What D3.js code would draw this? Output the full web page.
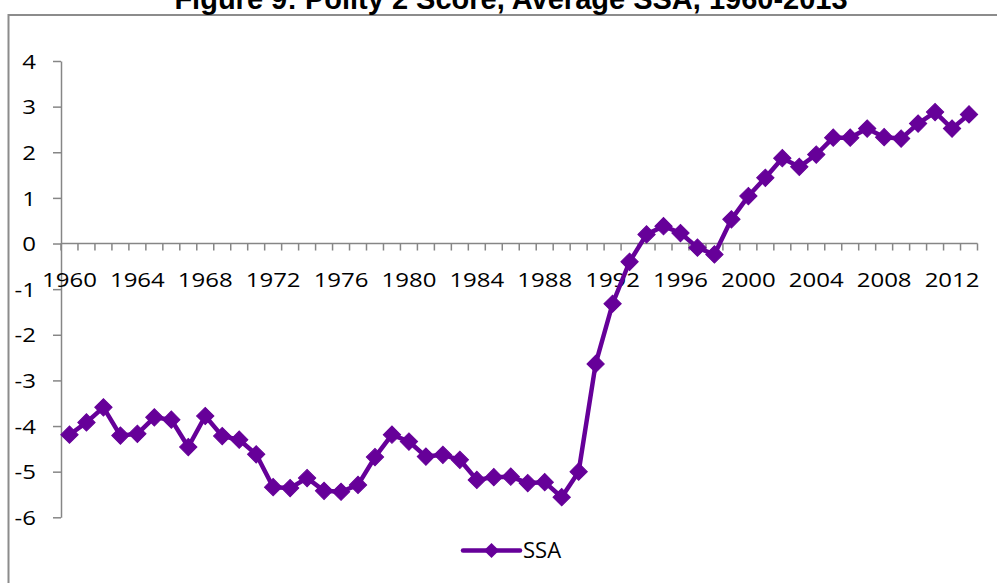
<!DOCTYPE html>
<html>
<head>
<meta charset="utf-8">
<script src="https://cdn.jsdelivr.net/npm/d3@7"></script>
<style>
  html, body { margin: 0; padding: 0; background: #fff; }
  svg { display: block; }
</style>
</head>
<body>
<script>
const years = d3.range(1960, 2014);
const ssa = [
  -4.19, -3.92, -3.59, -4.21, -4.17, -3.81, -3.86, -4.46, -3.78, -4.22,
  -4.30, -4.62, -5.34, -5.36, -5.14, -5.42, -5.44, -5.29, -4.68, -4.19,
  -4.34, -4.67, -4.63, -4.74, -5.18, -5.12, -5.11, -5.25, -5.23, -5.56,
  -5.00, -2.64, -1.32, -0.40, 0.20, 0.38, 0.23, -0.09, -0.24, 0.53,
  1.04, 1.44, 1.87, 1.68, 1.95, 2.32, 2.32, 2.52, 2.33, 2.30,
  2.63, 2.88, 2.52, 2.83
];
const yTicks = [-6, -5, -4, -3, -2, -1, 0, 1, 2, 3, 4];
const xTickLabels = d3.range(1960, 2014, 4);
const seriesName = "SSA";
const title = "Figure 9: Polity 2 Score, Average SSA, 1960-2013";

const W = 997, H = 583;
const plotL = 61, plotR = 977.5, plotT = 61, plotB = 517.3;
const color = "#660099";
const axisColor = "#868686";

const svg = d3.select("body").append("svg").attr("width", W).attr("height", H);

// outer chart frame
svg.append("rect").attr("x", 8.5).attr("y", 15).attr("width", W + 10).attr("height", H + 10)
  .attr("fill", "none").attr("stroke", "#8c8c8c").attr("stroke-width", 2);

// title (partly above the top edge, as in the reference)
svg.append("text").attr("x", 511).attr("y", 9).attr("text-anchor", "middle")
  .attr("font-family", "Liberation Sans, Arial, sans-serif").attr("font-weight", "bold")
  .attr("font-size", 29).attr("fill", "#000").text(title);

const x = d3.scaleBand().domain(years).range([plotL, plotR]).padding(0);
const y = d3.scaleLinear().domain([-6, 4]).range([plotB, plotT]);

// y axis
const yAxis = svg.append("g").attr("transform", `translate(${plotL},0)`)
  .call(d3.axisLeft(y).tickValues(yTicks).tickSize(8).tickSizeOuter(0).tickFormat(d3.format("d")));
yAxis.select(".domain").attr("stroke", axisColor).attr("stroke-width", 1.5);
yAxis.selectAll(".tick line").attr("stroke", axisColor).attr("stroke-width", 1.5);
yAxis.selectAll(".tick text").remove();
yAxis.selectAll(".tick").append("text")
  .attr("text-anchor", "end").attr("dy", "0.35em")
  .attr("transform", "translate(-25,0) scale(1.17,1)")
  .attr("font-family", "Open Sans, sans-serif").attr("font-size", 20.5).attr("fill", "#000")
  .text(d => d3.format("d")(d).replace("\u2212", "-"));

// x axis at y=0
const y0 = y(0);
const xAxisG = svg.append("g").attr("transform", `translate(0,${y0})`);
xAxisG.append("line").attr("x1", plotL).attr("x2", plotR).attr("y1", 0).attr("y2", 0)
  .attr("stroke", axisColor).attr("stroke-width", 1.5);
const boundaries = years.map(d => x(d)).concat([plotR]);
xAxisG.selectAll("line.tk").data(boundaries).join("line").attr("class", "tk")
  .attr("x1", d => d).attr("x2", d => d).attr("y1", 0).attr("y2", 7)
  .attr("stroke", axisColor).attr("stroke-width", 1.5);
xAxisG.selectAll("text.lbl").data(xTickLabels).join("text").attr("class", "lbl")
  .attr("transform", d => `translate(${x(d) + x.bandwidth() / 2},43) scale(1.17,1)`)
  .attr("text-anchor", "middle")
  .attr("font-family", "Open Sans, sans-serif").attr("font-size", 20.5).attr("fill", "#000")
  .text(d => d);

// line
const line = d3.line().x((d, i) => x(years[i]) + x.bandwidth() / 2).y(d => y(d));
svg.append("path").datum(ssa).attr("d", line).attr("fill", "none")
  .attr("stroke", color).attr("stroke-width", 4.5).attr("stroke-linejoin", "round");

const diamond = d3.symbol().type(d3.symbolSquare).size(150);
svg.selectAll("path.mk").data(ssa).join("path").attr("class", "mk")
  .attr("d", diamond)
  .attr("transform", (d, i) => `translate(${x(years[i]) + x.bandwidth() / 2},${y(d)}) rotate(45)`)
  .attr("fill", color).attr("stroke", color).attr("stroke-width", 1);

// legend
const lg = svg.append("g").attr("transform", "translate(463,550.5)");
lg.append("line").attr("x1", 0).attr("x2", 57).attr("y1", 0).attr("y2", 0)
  .attr("stroke", color).attr("stroke-width", 4.5).attr("stroke-linecap", "round");
lg.append("path").attr("d", d3.symbol().type(d3.symbolSquare).size(115))
  .attr("transform", "translate(28.5,0) rotate(45)").attr("fill", color);
lg.append("text").attr("x", 60).attr("y", 0).attr("dy", "0.36em")
  .attr("font-family", "Open Sans, sans-serif").attr("font-size", 22).attr("fill", "#000")
  .text(seriesName);
</script>
</body>
</html>
